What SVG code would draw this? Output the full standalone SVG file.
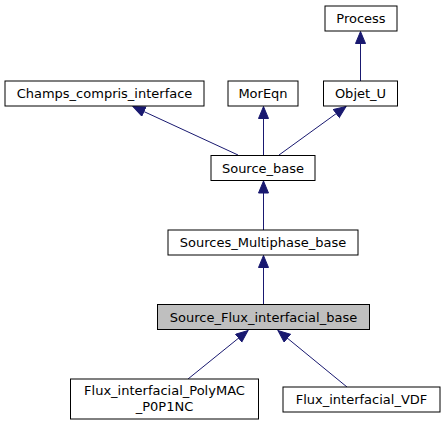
<svg xmlns="http://www.w3.org/2000/svg" width="446" height="425" viewBox="0 0 446 425">
<style>
.n rect{fill:#fff;stroke:#000;stroke-width:1}
.n text{font-family:"DejaVu Sans",sans-serif;font-size:13px;text-anchor:middle;fill:#000}
#edges line{stroke:#191970;stroke-width:1}
</style>
<defs>
<marker id="ah" markerUnits="userSpaceOnUse" markerWidth="14" markerHeight="12" refX="12.5" refY="5.5" orient="auto">
<path d="M0.5,0.5 L12.5,5.5 L0.5,10.5 z" fill="#191970" stroke="#191970"/>
</marker>
</defs>
<rect width="446" height="425" fill="#fff"/>
<g id="edges">
<line x1="360.5" y1="81" x2="360.5" y2="31.5" marker-end="url(#ah)"/>
<line x1="238" y1="155" x2="133" y2="106.5" marker-end="url(#ah)"/>
<line x1="263.5" y1="155" x2="263.5" y2="106.5" marker-end="url(#ah)"/>
<line x1="279" y1="155" x2="346" y2="106.5" marker-end="url(#ah)"/>
<line x1="263.5" y1="230" x2="263.5" y2="181" marker-end="url(#ah)"/>
<line x1="263.5" y1="304" x2="263.5" y2="255.5" marker-end="url(#ah)"/>
<line x1="188" y1="379" x2="248" y2="330.5" marker-end="url(#ah)"/>
<line x1="347" y1="387" x2="278" y2="330.5" marker-end="url(#ah)"/>
</g>
<g id="process" class="n"><rect x="325" y="6" width="72" height="25"/><text x="361" y="23">Process</text></g>
<g id="champs" class="n"><rect x="5" y="81" width="199" height="25"/><text x="104.5" y="98">Champs_compris_interface</text></g>
<g id="moreqn" class="n"><rect x="228" y="81" width="70" height="25"/><text x="263" y="98">MorEqn</text></g>
<g id="objet_u" class="n"><rect x="323.5" y="81" width="74" height="25"/><text x="360.5" y="98">Objet_U</text></g>
<g id="source_base" class="n"><rect x="211" y="155.5" width="104" height="25"/><text x="263" y="172.5">Source_base</text></g>
<g id="sources_multiphase_base" class="n"><rect x="168" y="230" width="190" height="25"/><text x="263" y="247">Sources_Multiphase_base</text></g>
<g id="source_flux_interfacial_base" class="n"><rect x="157.5" y="304.5" width="212" height="25" style="fill:#bfbfbf"/><text x="263.5" y="321.5">Source_Flux_interfacial_base</text></g>
<g id="flux_polymac" class="n"><rect x="70.5" y="379" width="188" height="40"/><text x="164.5" y="395">Flux_interfacial_PolyMAC</text><text x="164.5" y="411">_P0P1NC</text></g>
<g id="flux_vdf" class="n"><rect x="283" y="387" width="157" height="25"/><text x="361.5" y="404">Flux_interfacial_VDF</text></g>
</svg>
